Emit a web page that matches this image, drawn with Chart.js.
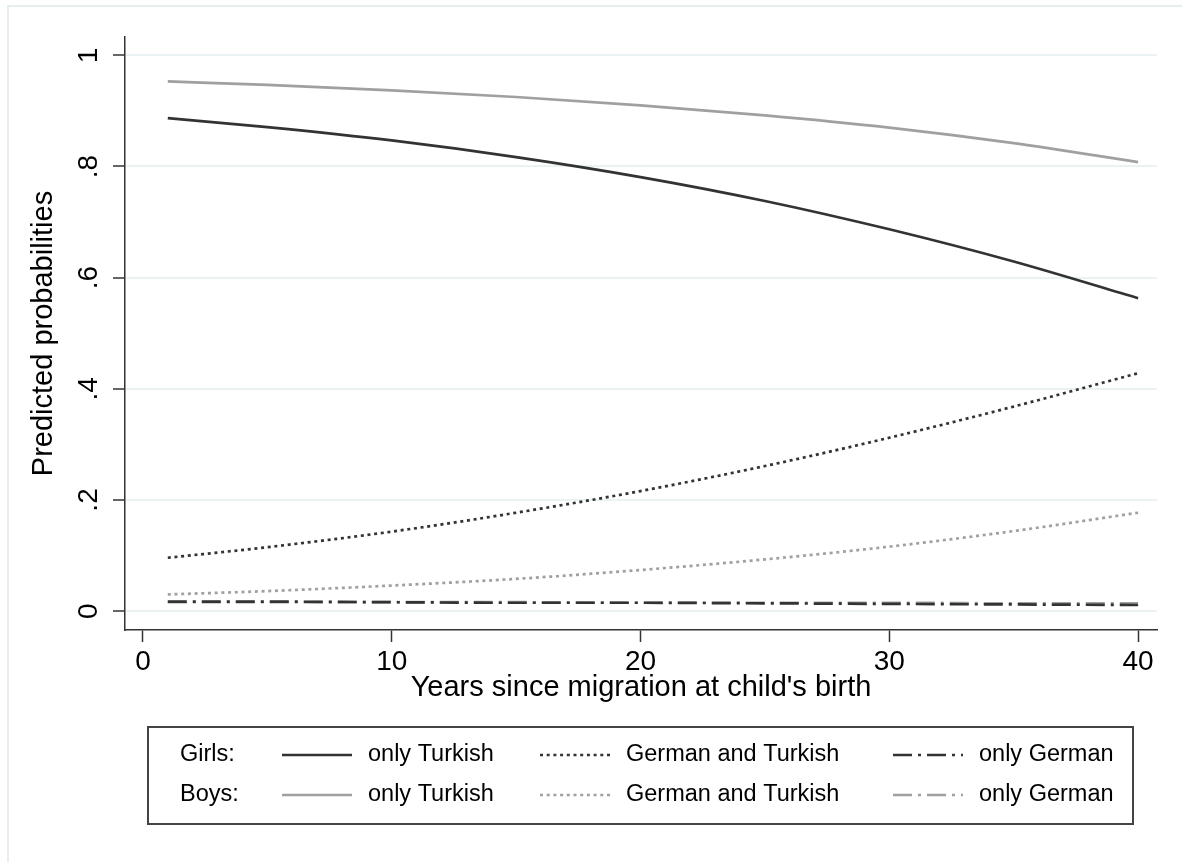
<!DOCTYPE html>
<html>
<head>
<meta charset="utf-8">
<script src="https://cdn.jsdelivr.net/npm/chart.js"></script>
<style>
  html, body { margin: 0; padding: 0; background: #fff; }
  #wrap { width: 1182px; height: 862px; }
</style>
</head>
<body>
<div id="wrap"><canvas id="chart" width="1182" height="862"></canvas></div>
<script>
// values
var years = [1, 5, 10, 15, 20, 25, 30, 35, 40];
var girlsTurkish = [0.887, 0.871, 0.847, 0.817, 0.781, 0.738, 0.687, 0.629, 0.563];
var girlsBoth    = [0.096, 0.115, 0.143, 0.177, 0.216, 0.261, 0.312, 0.368, 0.428];
var girlsGerman  = [0.017, 0.017, 0.016, 0.015, 0.015, 0.014, 0.013, 0.012, 0.011];
var boysTurkish  = [0.953, 0.947, 0.937, 0.925, 0.910, 0.892, 0.870, 0.842, 0.808];
var boysBoth     = [0.030, 0.036, 0.046, 0.058, 0.074, 0.093, 0.116, 0.144, 0.177];
var boysGerman   = [0.016, 0.016, 0.016, 0.016, 0.015, 0.015, 0.015, 0.014, 0.014];

var xTicks = [0, 10, 20, 30, 40];
var yTicks = [0, 0.2, 0.4, 0.6, 0.8, 1];
var yTickLabels = ['0', '.2', '.4', '.6', '.8', '1'];

var FONT = "'Liberation Sans', Arial, sans-serif";
var DARK = '#333333';
var LIGHT = '#a0a0a0';
var DOT = [3, 3.7];
var DASHDOT = [19, 6, 3, 6];

function pts(vals) {
  return years.map(function (x, i) { return { x: x, y: vals[i] }; });
}

function line(label, vals, color, dash) {
  return {
    label: label,
    data: pts(vals),
    borderColor: color,
    borderWidth: 2.7,
    borderDash: dash,
    pointRadius: 0,
    fill: false,
    cubicInterpolationMode: 'monotone'
  };
}

// legend rows: Girls / Boys, three keys each
var legendRows = [
  { name: 'Girls:', color: DARK },
  { name: 'Boys:', color: LIGHT }
];
var legendKeys = [
  { text: 'only Turkish', dash: [], x: 282 },
  { text: 'German and Turkish', dash: DOT, x: 540 },
  { text: 'only German', dash: DASHDOT, x: 893 }
];

var framePlugin = {
  id: 'frame',
  beforeDraw: function (chart) {
    var c = chart.ctx;
    c.save();
    c.fillStyle = '#fff';
    c.fillRect(0, 0, chart.width, chart.height);
    c.strokeStyle = '#e6eef0';
    c.lineWidth = 2;
    c.strokeRect(8, 6, chart.width + 10, chart.height + 10);
    c.restore();
  }
};

var legendPlugin = {
  id: 'boxLegend',
  afterDraw: function (chart) {
    var c = chart.ctx;
    c.save();
    c.strokeStyle = '#444';
    c.lineWidth = 2;
    c.strokeRect(148, 727, 985, 97);
    c.font = '23.5px ' + FONT;
    c.fillStyle = '#000';
    c.textBaseline = 'middle';
    legendRows.forEach(function (row, r) {
      var y = 755 + r * 40;
      c.fillText(row.name, 180, y);
      legendKeys.forEach(function (k) {
        c.beginPath();
        c.setLineDash(k.dash);
        c.strokeStyle = row.color;
        c.lineWidth = 2.7;
        c.moveTo(k.x, y);
        c.lineTo(k.x + 70, y);
        c.stroke();
        c.setLineDash([]);
        c.fillText(k.text, k.x + 86, y);
      });
    });
    c.restore();
  }
};

var ctx = document.getElementById('chart').getContext('2d');
var chart = new Chart(ctx, {
  type: 'line',
  data: {
    datasets: [
      line('Girls: only Turkish', girlsTurkish, DARK, []),
      line('Girls: German and Turkish', girlsBoth, DARK, DOT),
      line('Girls: only German', girlsGerman, DARK, DASHDOT),
      line('Boys: only Turkish', boysTurkish, LIGHT, []),
      line('Boys: German and Turkish', boysBoth, LIGHT, DOT),
      line('Boys: only German', boysGerman, LIGHT, DASHDOT)
    ]
  },
  options: {
    responsive: false,
    animation: false,
    layout: { padding: { left: 0, top: 37, right: 25, bottom: 157 } },
    plugins: {
      legend: { display: false },
      tooltip: { enabled: false }
    },
    scales: {
      x: {
        type: 'linear',
        min: -0.72,
        max: 40.76,
        afterBuildTicks: function (s) { s.ticks = xTicks.map(function (v) { return { value: v }; }); },
        afterFit: function (s) { s.height = 75; },
        ticks: {
          font: { family: FONT, size: 28, lineHeight: 1 },
          color: '#000',
          padding: 6,
          maxRotation: 0,
          autoSkip: false
        },
        grid: { drawOnChartArea: false, tickLength: 12, tickColor: DARK, tickWidth: 1.5 },
        border: { color: DARK, width: 1.5 },
        title: {
          display: true,
          text: "Years since migration at child's birth",
          font: { family: FONT, size: 29 },
          color: '#000',
          padding: 0
        }
      },
      y: {
        type: 'linear',
        min: -0.034,
        max: 1.033,
        afterBuildTicks: function (s) { s.ticks = yTicks.map(function (v) { return { value: v }; }); },
        afterFit: function (s) { s.width = 125; },
        ticks: {
          font: { family: FONT, size: 28, lineHeight: 1 },
          color: '#000',
          padding: 12,
          minRotation: 90,
          maxRotation: 90,
          crossAlign: 'center',
          callback: function (v) { return yTickLabels[yTicks.indexOf(v)]; }
        },
        grid: { color: '#eaf2f3', lineWidth: 2, tickLength: 12, tickColor: DARK, tickWidth: 1.5 },
        border: { color: DARK, width: 1.5 },
        title: {
          display: true,
          text: 'Predicted probabilities',
          font: { family: FONT, size: 29 },
          color: '#000',
          padding: { top: 27, bottom: 0 }
        }
      }
    }
  },
  plugins: [framePlugin, legendPlugin]
});
</script>
</body>
</html>
